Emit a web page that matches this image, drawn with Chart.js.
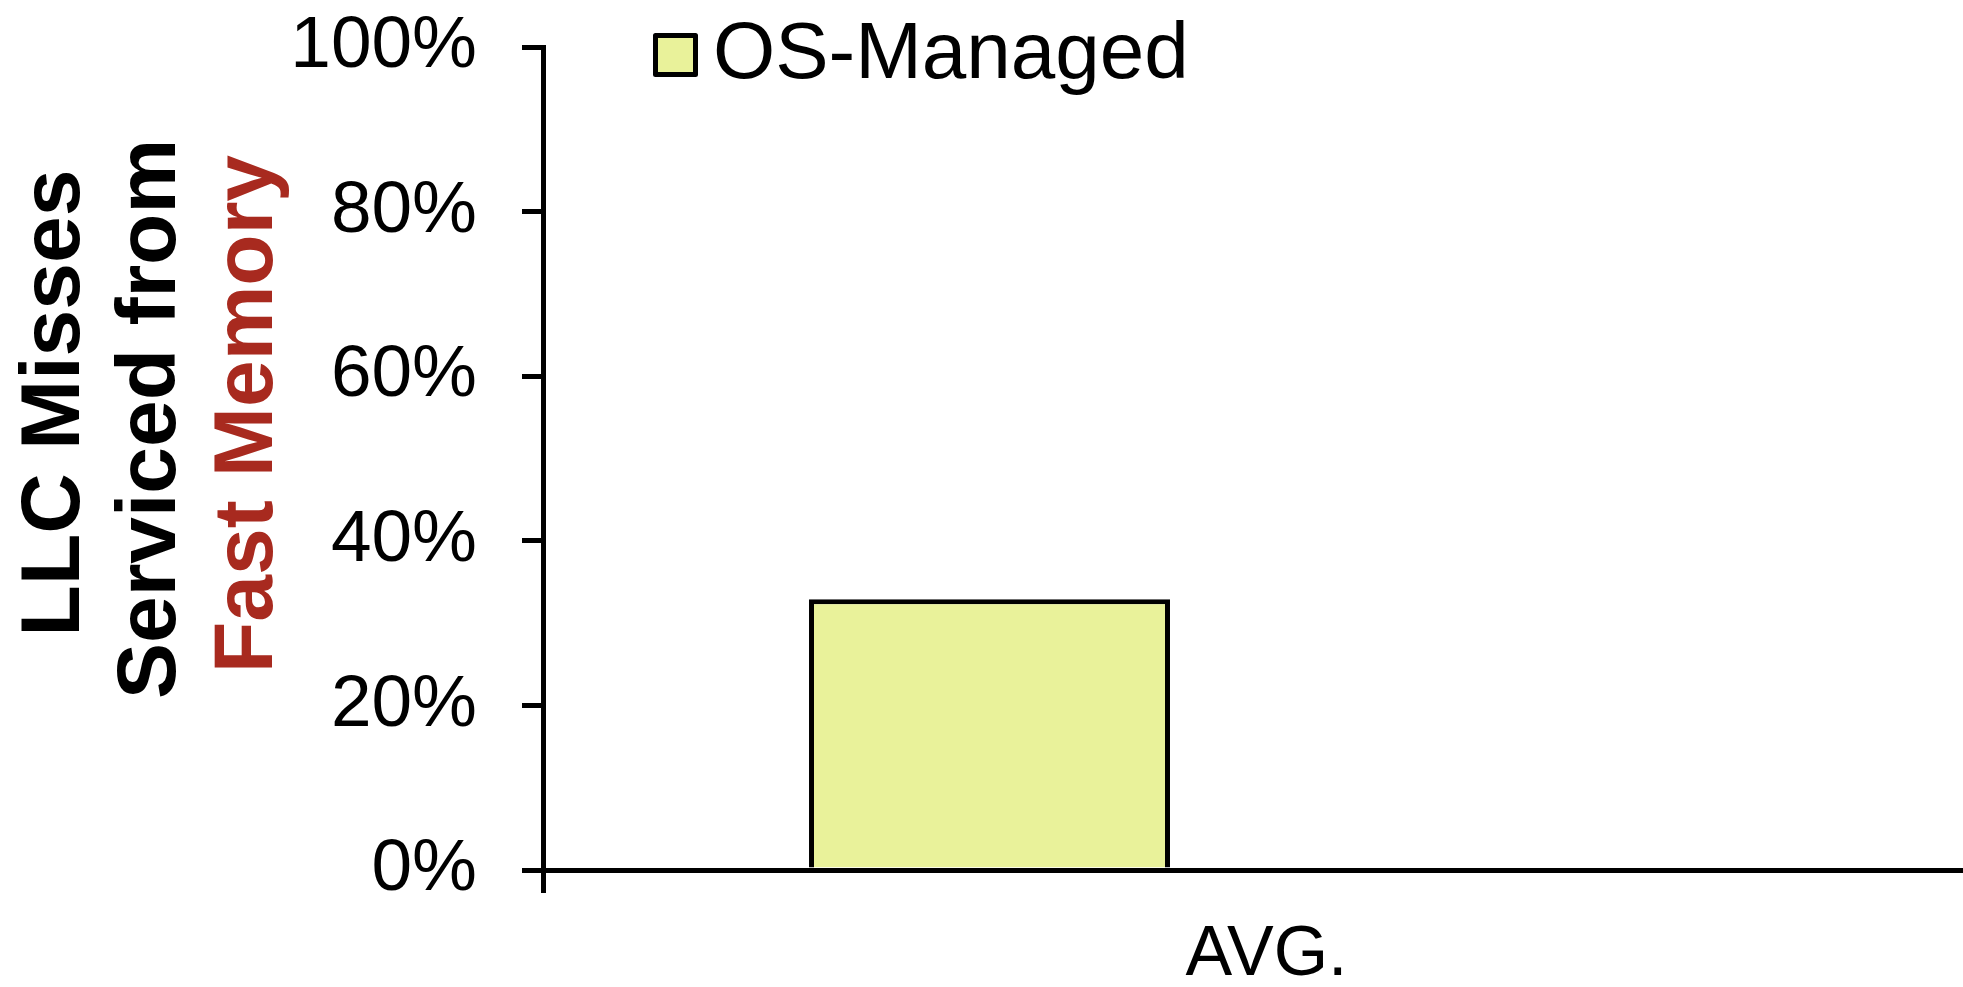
<!DOCTYPE html>
<html>
<head>
<meta charset="utf-8">
<script src="https://cdn.jsdelivr.net/npm/chart.js@4"></script>
<style>
  html, body { margin: 0; padding: 0; background: #fff; overflow: hidden; }
  #wrap { width: 1990px; height: 987px; }
</style>
</head>
<body>
<div id="wrap"><canvas id="llcChart" width="1990" height="987"></canvas></div>
<script>
const categories = ['AVG.'];
const seriesNames = ['OS-Managed'];
const osManaged = [32.9];
// the original group had a second (empty) slot, which pushes the bar left of centre
const emptySlot = [null];
const yTicks = [0, 20, 40, 60, 80, 100];
const titleLines = ['LLC Misses', 'Serviced from', 'Fast Memory'];
const titleColors = ['#000000', '#000000', '#A82A1F'];

const FONT = "'Liberation Sans', Arial, Helvetica, sans-serif";

// three-line rotated y title, last line in red
const axisTitle = {
    id: 'axisTitle',
    afterDraw(chart) {
        const c = chart.ctx;
        const baseX = [79, 175, 272];
        const midY = [403, 419, 414];
        c.save();
        c.font = 'bold 84px ' + FONT;
        c.textAlign = 'center';
        c.textBaseline = 'alphabetic';
        titleLines.forEach((t, i) => {
            c.save();
            c.translate(baseX[i], midY[i]);
            c.rotate(-Math.PI / 2);
            c.fillStyle = titleColors[i];
            c.fillText(t, 0, 0);
            c.restore();
        });
        c.restore();
    }
};

// legend sits inside the plot, top left
const boxLegend = {
    id: 'boxLegend',
    afterDraw(chart) {
        const c = chart.ctx;
        const ds = chart.data.datasets[0];
        c.save();
        c.fillStyle = ds.backgroundColor;
        c.strokeStyle = '#000';
        c.lineWidth = 5;
        c.lineJoin = 'round';
        c.fillRect(655.5, 35.5, 40, 39);
        c.strokeRect(655.5, 35.5, 40, 39);
        c.fillStyle = '#000';
        c.font = '80px ' + FONT;
        c.textAlign = 'left';
        c.textBaseline = 'middle';
        c.fillText(ds.label, 713, 56);
        c.restore();
    }
};

new Chart(document.getElementById('llcChart').getContext('2d'), {
    type: 'bar',
    data: {
        labels: categories,
        datasets: [
            {
                label: seriesNames[0],
                data: osManaged,
                backgroundColor: '#E9F29A',
                borderColor: '#000',
                borderWidth: 5,
                borderSkipped: 'start',
                categoryPercentage: 0.7657,
                barPercentage: 0.6516,
            },
            {
                label: '',
                data: emptySlot,
                backgroundColor: 'rgba(0,0,0,0)',
                categoryPercentage: 0.7657,
                barPercentage: 0.6516,
            }
        ]
    },
    options: {
        responsive: false,
        animation: false,
        layout: { padding: { top: 47, left: 0, right: 0, bottom: 0 } },
        plugins: {
            legend: { display: false },
            tooltip: { enabled: false },
            title: { display: false }
        },
        scales: {
            x: {
                offset: true,
                grid: {
                    display: true,
                    drawOnChartArea: false,
                    offset: true,
                    tickLength: 23,
                    color: '#000',
                    lineWidth: 5
                },
                border: { display: true, color: '#000', width: 5 },
                ticks: {
                    color: '#000',
                    font: { family: FONT, size: 70 },
                    padding: 21,
                    maxRotation: 0
                },
                afterFit(s) {
                    s.height = 117;
                    s.paddingLeft = 0;
                    s.paddingRight = 0;
                }
            },
            y: {
                min: yTicks[0],
                max: yTicks[yTicks.length - 1],
                afterBuildTicks(s) { s.ticks = yTicks.map(v => ({ value: v })); },
                grid: {
                    drawOnChartArea: false,
                    tickLength: 21,
                    color: '#000',
                    lineWidth: 5
                },
                border: { display: true, color: '#000', width: 5 },
                ticks: {
                    color: '#000',
                    font: { family: FONT, size: 73 },
                    padding: 45,
                    callback: v => v + '%'
                },
                afterFit(s) {
                    s.width = 543;
                    s.paddingTop = 0;
                    s.paddingBottom = 0;
                }
            }
        }
    },
    plugins: [axisTitle, boxLegend]
});
</script>
</body>
</html>
